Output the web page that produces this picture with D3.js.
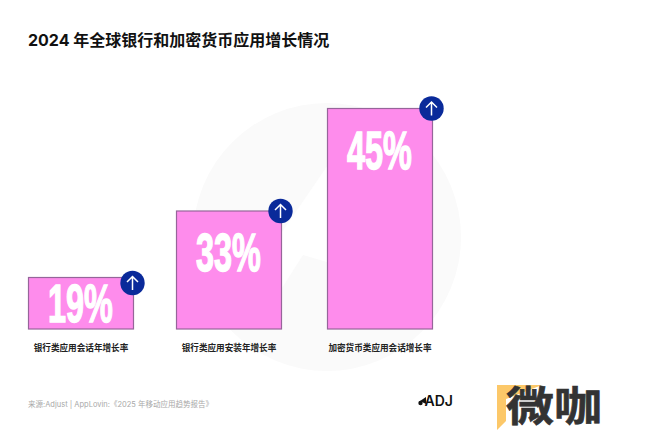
<!DOCTYPE html>
<html><head><meta charset="utf-8">
<script src="https://cdn.jsdelivr.net/npm/d3@7"></script>
<style>html,body{margin:0;padding:0;background:#fff}svg{display:block}</style></head>
<body><svg id="c" width="650" height="433"></svg>
<script>
const categories=["银行类应用会话年增长率","银行类应用安装年增长率","加密货币类应用会话增长率"];
const values=[19,33,45];
const valueTicks=[0,19,33,45];
const titleText="2024 年全球银行和加密货币应用增长情况";
const sourceText="来源:Adjust | AppLovin:《2025 年移动应用趋势报告》";

const svg=d3.select("#c");
const cjk="'Noto Sans CJK SC','Noto Sans',sans-serif";
const latinCjk="'Inter','Noto Sans CJK SC',sans-serif";
// background emblem
svg.append("circle").attr("cx",327).attr("cy",237).attr("r",134).attr("fill","#fafafa");
svg.append("path").attr("d","M345 140 L282 232 L268 310 L303 255 L327 262 L327 232 L345 215Z").attr("fill","#fff");

const x=d3.scaleOrdinal().domain(categories).range([28.5,176.5,327.5]);
const barW=105;
// the reference's bars are not proportional to value: scale is piecewise
const y=d3.scaleLinear().domain(valueTicks).range([329,277.5,211,108.5]);
const g=svg.append("g");
const data=categories.map((c,i)=>({c,v:values[i]}));

g.selectAll("rect").data(data).join("rect")
 .attr("x",d=>x(d.c)).attr("y",d=>y(d.v)).attr("width",barW).attr("height",d=>y(0)-y(d.v))
 .attr("fill","#fe8cec").attr("stroke","#96659a").attr("stroke-width",1.2);

g.selectAll("text.val").data(data).join("text").attr("class","val")
 .attr("transform",d=>`translate(${x(d.c)+barW/2-0.5},${y(d.v)+(d.v===19?44:60)}) scale(0.6,1)`)
 .attr("text-anchor","middle").attr("font-family","'Liberation Sans Narrow','Liberation Sans',sans-serif")
 .attr("font-weight",700).attr("font-size",54).attr("fill","#fff").attr("stroke","#fff").attr("stroke-width",1.5).text(d=>d.v+"%");

g.selectAll("text.lab").data(data).join("text").attr("class","lab")
 .attr("x",d=>x(d.c)+barW/2).attr("y",y(0)+22).attr("text-anchor","middle")
 .attr("font-family",cjk).attr("font-weight",700).attr("font-size",8.6).attr("fill","#222").text(d=>d.c);

const badges=g.selectAll("g.badge").data(data).join("g").attr("class","badge")
 .attr("transform",d=>`translate(${x(d.c)+barW-1},${y(d.v)+(d.v===19?5.5:0)})`);
badges.append("circle").attr("r",12.2).attr("fill","#0a2a9a");
badges.append("path").attr("d","M0 7V-6.5M-5.5 -1L0 -6.5L5.5 -1").attr("fill","none").attr("stroke","#fff").attr("stroke-width",1.5);

svg.append("text").attr("x",28).attr("y",45.5).attr("font-family",latinCjk).attr("font-weight",700).attr("font-size",16).attr("fill","#111").text(titleText);
svg.append("text").attr("x",28).attr("y",406.5).attr("font-family",latinCjk).attr("font-size",7.5).attr("fill","#a8a8a8").text(sourceText);

// logos
svg.append("text").attr("x",424.5).attr("y",406).attr("font-family","'Inter',sans-serif").attr("font-weight",600).attr("font-size",14).attr("fill","#111").text("ADJ");
svg.append("circle").attr("cx",420.5).attr("cy",403).attr("r",2.2).attr("fill","#111");
svg.append("path").attr("d","M420 401L426 397V404Z").attr("fill","#111");
svg.append("path").attr("d","M497 385H542L506 399V421L497 430Z").attr("fill","#fcc869");
svg.append("text").attr("x",506).attr("y",421).attr("font-family",cjk).attr("font-weight",700).attr("font-size",41).attr("fill","#333").attr("stroke","#333").attr("stroke-width",0.6).attr("textLength",96).attr("lengthAdjust","spacingAndGlyphs").text("微咖");
</script></body></html>
